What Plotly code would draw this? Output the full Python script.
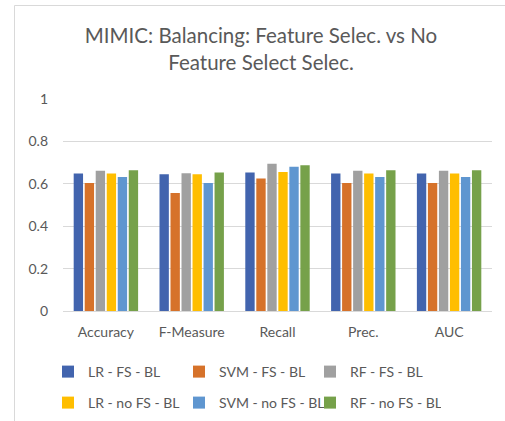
import plotly.graph_objects as go

categories = ["Accuracy", "F-Measure", "Recall", "Prec.", "AUC"]
series_names = ["LR - FS - BL", "SVM - FS - BL", "RF - FS - BL",
                "LR - no FS - BL", "SVM - no FS - BL", "RF - no FS - BL"]
lr_fs = [0.648, 0.645, 0.653, 0.648, 0.648]
svm_fs = [0.604, 0.557, 0.625, 0.604, 0.604]
rf_fs = [0.662, 0.650, 0.695, 0.662, 0.662]
lr_nofs = [0.648, 0.645, 0.656, 0.648, 0.648]
svm_nofs = [0.632, 0.604, 0.681, 0.632, 0.632]
rf_nofs = [0.664, 0.653, 0.687, 0.664, 0.664]
colors = ["#4264AE", "#D6722A", "#A0A0A0", "#FFBE00", "#5F96D0", "#76A14A"]
y_ticks = [0, 0.2, 0.4, 0.6, 0.8, 1]
y_tick_text = ["0", "0.2", "0.4", "0.6", "0.8", "1"]

FONT = "Lato"
TXT = "#595959"

fig = go.Figure()
all_vals = [lr_fs, svm_fs, rf_fs, lr_nofs, svm_nofs, rf_nofs]
for i, (name, vals, col) in enumerate(zip(series_names, all_vals, colors)):
    fig.add_trace(go.Bar(x=categories, y=vals, name=name,
                         legend="legend" if i < 3 else "legend2",
                         marker=dict(color=col, line=dict(width=0))))

W, H = 505, 421
L, R, T, B = 63, 13, 99, 110
pw, ph = W - L - R, H - T - B

def px_to_paper_x(px):
    return (px - L) / pw

def px_to_paper_y(py):
    return (H - B - py) / ph

bx = px_to_paper_x(14.5)
by = px_to_paper_y(5.5)

leg_common = dict(orientation="h", xref="container", x=48 / W, xanchor="left",
                  yref="container", yanchor="middle",
                  entrywidth=86, entrywidthmode="pixels",
                  font=dict(family=FONT, size=14, color=TXT),
                  itemwidth=30, bgcolor="rgba(0,0,0,0)")

fig.update_layout(
    width=W, height=H,
    margin=dict(l=L, r=R, t=T, b=B, autoexpand=False),
    paper_bgcolor="white", plot_bgcolor="white",
    font=dict(family=FONT, color=TXT),
    barmode="group", bargap=0.23, bargroupgap=0.15,
    title=dict(text="MIMIC: Balancing: Feature Selec. vs No<br>Feature Select Selec.",
               x=261 / W, xref="container", xanchor="center",
               y=1 - 43 / H, yref="container", yanchor="middle",
               font=dict(family=FONT, size=20.5, color=TXT)),
    xaxis=dict(showgrid=False, showline=True, linecolor="#d9d9d9", linewidth=1,
               tickfont=dict(family=FONT, size=14, color=TXT),
               ticks="", ticklabelstandoff=8),
    yaxis=dict(range=[0, 1], tickvals=y_ticks, ticktext=y_tick_text,
               showgrid=True, gridcolor="#d9d9d9", gridwidth=1,
               zeroline=False, showline=False, ticks="",
               tickfont=dict(family=FONT, size=14, color=TXT),
               ticklabelstandoff=14),
    legend=dict(y=1 - 372 / H, **leg_common),
    legend2=dict(y=1 - 403 / H, **leg_common),
    showlegend=True,
    shapes=[
        dict(type="line", xref="paper", yref="paper", x0=bx, x1=bx, y0=by, y1=px_to_paper_y(425),
             line=dict(color="#d9d9d9", width=1)),
        dict(type="line", xref="paper", yref="paper", x0=bx, x1=px_to_paper_x(510), y0=by, y1=by,
             line=dict(color="#d9d9d9", width=1)),
    ],
)

fig.write_html("out.html", config={"displayModeBar": False},
               post_script="document.body.style.margin='0';")
